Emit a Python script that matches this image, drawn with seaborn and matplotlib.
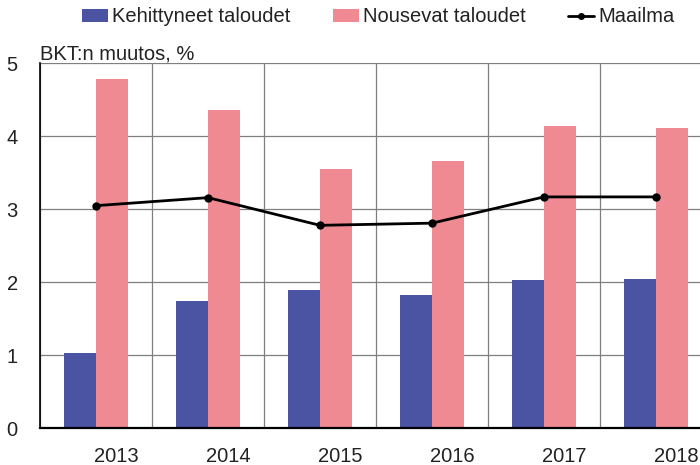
import matplotlib
matplotlib.use("Agg")
import matplotlib.pyplot as plt
import matplotlib.transforms as mtransforms
from matplotlib.patches import Patch
from matplotlib.lines import Line2D
import seaborn as sns
import pandas as pd
import numpy as np

years = ["2013", "2014", "2015", "2016", "2017", "2018"]
advanced = [1.03, 1.74, 1.89, 1.83, 2.03, 2.04]
emerging = [4.79, 4.36, 3.55, 3.66, 4.14, 4.12]
world = [3.05, 3.16, 2.78, 2.81, 3.17, 3.17]
series_names = ["Kehittyneet taloudet", "Nousevat taloudet", "Maailma"]
y_title = "BKT:n muutos, %"

blue = "#4B54A3"
pink = "#F08A92"

sns.set_theme(style="white")
plt.rcParams["font.family"] = ["Liberation Sans", "DejaVu Sans"]

df = pd.DataFrame({
    "year": years * 2,
    "value": advanced + emerging,
    "series": [series_names[0]] * len(years) + [series_names[1]] * len(years),
})

fig = plt.figure(figsize=(7.0, 4.65), dpi=100)
ax = fig.add_axes([40 / 700, 37 / 465, 672 / 700, 364.5 / 465])

sns.barplot(data=df, x="year", y="value", hue="series", order=years,
            hue_order=series_names[:2], palette=[blue, pink],
            width=0.57, gap=0, linewidth=0, saturation=1, ax=ax, legend=False,
            zorder=2)
sns.pointplot(x=years, y=world, order=years, color="black", markers="o",
              markersize=4.5, linewidth=2, ax=ax, zorder=3)

ax.set_xlim(-0.5, len(years) - 0.5)
ax.set_ylim(0, 5)
ax.set_yticks(range(0, 6))
ax.set_xlabel("")
ax.set_ylabel("")

ax.set_xticks(np.arange(-0.5, len(years), 1.0), minor=True)
ax.grid(False)
ax.yaxis.grid(True, color="#7f7f7f", linewidth=0.9, zorder=0)
ax.xaxis.grid(True, which="minor", color="#7f7f7f", linewidth=0.9, zorder=0)
ax.set_axisbelow(True)

for s in ["top", "right"]:
    ax.spines[s].set_visible(False)
ax.spines["left"].set_color("black")
ax.spines["left"].set_linewidth(1.2)
ax.spines["bottom"].set_color("black")
ax.spines["bottom"].set_linewidth(1.6)

ax.tick_params(axis="both", which="both", length=0, labelsize=14.5, colors="#222222")
ax.tick_params(axis="y", pad=16)
ax.tick_params(axis="x", pad=14)
offset = mtransforms.ScaledTranslation(20 / 100, 0, fig.dpi_scale_trans)
for lab in ax.get_xticklabels():
    lab.set_transform(lab.get_transform() + offset)

fig.text(40 / 700, 1 - 60 / 465, y_title, fontsize=14.5, color="#222222",
         ha="left", va="baseline")

handles = [
    Patch(facecolor=blue, edgecolor="none"),
    Patch(facecolor=pink, edgecolor="none"),
    Line2D([0], [0], color="black", linewidth=2, marker="o", markersize=4),
]
fig.legend(handles, series_names, loc="center", ncol=3, frameon=False,
           bbox_to_anchor=(378 / 700, 1 - 17 / 465), fontsize=14.5,
           handlelength=1.3, handleheight=0.65, handletextpad=0.2,
           columnspacing=2.1, labelcolor="#222222")

fig.savefig("out.png", dpi=100)
